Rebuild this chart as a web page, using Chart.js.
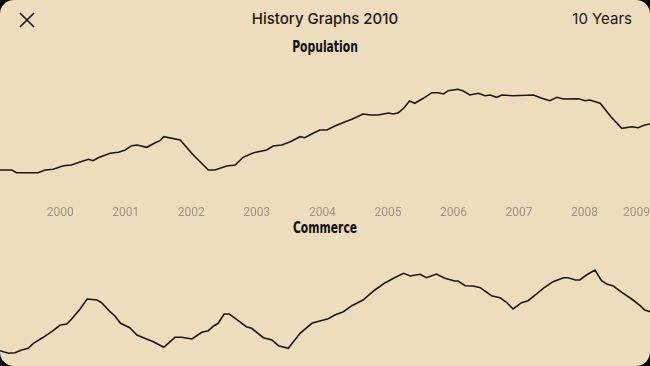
<!DOCTYPE html>
<html>
<head>
<meta charset="utf-8">
<script src="https://cdn.jsdelivr.net/npm/chart.js@4.4.1/dist/chart.umd.min.js"></script>
<style>
  html, body { margin: 0; padding: 0; background: #000; }
  #screen {
    position: relative; width: 650px; height: 366px; overflow: hidden;
    background: #eeddbc; border-radius: 14px;
    font-family: Inter, Roboto, sans-serif; color: #1a1712;
  }
  #closeBtn { position: absolute; left: 19px; top: 12px; width: 16px; height: 16px; }
  #title { position: absolute; left: 0; width: 650px; top: 9px; text-align: center; font-size: 15px; font-weight: 500; }
  #range { position: absolute; right: 18px; top: 9px; font-size: 15px; }
  .section { position: absolute; left: 0; width: 650px; text-align: center;
    font-family: "DejaVu Sans Condensed", "Liberation Sans Narrow", sans-serif;
    font-weight: bold; font-size: 15px; color: #111;
    transform: scaleX(0.8); transform-origin: 325px 0; }
  #popChart { position: absolute; left: 0; top: 60px; }
  #comChart { position: absolute; left: 0; top: 240px; }
</style>
</head>
<body>
<div id="screen">
  <svg id="closeBtn" viewBox="0 0 16 16"><path d="M1 1L15 15M15 1L1 15" stroke="#1a1712" stroke-width="1.6" fill="none"/></svg>
  <div id="title">History Graphs 2010</div>
  <div id="range">10 Years</div>
  <div class="section" style="top:38px">Population</div>
  <div class="section" style="top:219px">Commerce</div>
  <canvas id="popChart" width="650" height="170"></canvas>
  <canvas id="comChart" width="650" height="126"></canvas>
</div>
<script>
const yearTicks = [2000, 2001, 2002, 2003, 2004, 2005, 2006, 2007, 2008, 2009];
const yearLabels = ['2000', '2001', '2002', '2003', '2004', '2005', '2006', '2007', '2008', '2009'];

const populationYears = [1999.08, 1999.26, 1999.33, 1999.66, 1999.77, 1999.89, 2000.05, 2000.17, 2000.30, 2000.43,
  2000.50, 2000.58, 2000.76, 2000.89, 2000.99, 2001.09, 2001.17, 2001.32, 2001.45, 2001.52,
  2001.58, 2001.83, 2002.03, 2002.26, 2002.36, 2002.54, 2002.67, 2002.79, 2002.95, 2003.15,
  2003.25, 2003.38, 2003.51, 2003.66, 2003.73, 2003.86, 2003.96, 2004.07, 2004.19, 2004.35,
  2004.45, 2004.62, 2004.73, 2004.85, 2005.01, 2005.08, 2005.16, 2005.24, 2005.33, 2005.41,
  2005.54, 2005.67, 2005.77, 2005.85, 2005.92, 2006.07, 2006.15, 2006.25, 2006.38, 2006.48,
  2006.56, 2006.66, 2006.74, 2006.91, 2007.22, 2007.35, 2007.47, 2007.58, 2007.68, 2007.91,
  2008.01, 2008.08, 2008.24, 2008.41, 2008.57, 2008.72, 2008.82, 2008.92, 2009.00];
const populationValues = [10, 10, 7.3, 7.3, 10, 10.7, 14.3, 15, 18, 20.7,
  19.3, 22.3, 26.7, 27.7, 30, 34.3, 35, 32.7, 37.3, 39.3,
  43.3, 40, 25, 10, 10, 14, 15, 22.7, 27.3, 30,
  34, 35, 38.3, 43.3, 42.3, 46.7, 50, 50, 54, 58.3,
  60.7, 66, 65, 65, 67, 66, 67.3, 71.7, 79, 76.7,
  81.7, 87.3, 87.3, 86, 89.3, 90.7, 89, 85, 86.7, 84.3,
  85, 82.7, 85, 84.3, 85, 81.7, 79.3, 82.7, 81, 81.3,
  79.3, 80, 76.7, 62.7, 51.7, 53.3, 52.3, 55, 56];

const commerceYears = [1999.08, 1999.21, 1999.31, 1999.41, 1999.51, 1999.59, 1999.74, 1999.89, 2000.00, 2000.10,
  2000.17, 2000.30, 2000.41, 2000.56, 2000.63, 2000.76, 2000.83, 2000.92, 2001.06, 2001.17,
  2001.27, 2001.42, 2001.58, 2001.75, 2001.85, 2002.01, 2002.16, 2002.26, 2002.34, 2002.41,
  2002.50, 2002.58, 2002.69, 2002.84, 2002.92, 2003.10, 2003.23, 2003.33, 2003.48, 2003.66,
  2003.84, 2003.96, 2004.09, 2004.19, 2004.32, 2004.45, 2004.62, 2004.80, 2004.96, 2005.13,
  2005.24, 2005.34, 2005.49, 2005.59, 2005.74, 2005.87, 2006.02, 2006.07, 2006.18, 2006.30,
  2006.41, 2006.58, 2006.71, 2006.81, 2006.91, 2007.04, 2007.14, 2007.25, 2007.37, 2007.52,
  2007.68, 2007.75, 2007.86, 2007.93, 2008.03, 2008.16, 2008.26, 2008.34, 2008.44, 2008.57,
  2008.72, 2008.85, 2008.92, 2009.00];
const commerceValues = [9.3, 6.7, 7.3, 10, 11.7, 16.7, 22.7, 29.3, 35, 36,
  40.7, 50.7, 61, 60, 57.3, 48.3, 44.3, 36.7, 32.3, 25,
  22.3, 18.3, 12.7, 22.7, 22.7, 21, 27.7, 29.3, 34, 36.7,
  46, 46, 40.7, 33.3, 31.7, 22.3, 20, 14.3, 11.7, 26.7,
  36.7, 39, 41.3, 45, 48.3, 54.3, 60, 70, 77.3, 83.3,
  86.7, 84, 85.7, 82.3, 86, 81.7, 79, 79, 74.3, 74,
  72.3, 64.3, 62.3, 57.7, 51, 57.3, 59.3, 65, 71.7, 78.3,
  82.3, 82.3, 80, 80, 85, 90, 79.3, 76, 74, 67.7,
  61, 54.3, 50, 48.3];

const lineColor = '#1c1812';

function points(xs, ys) {
  return xs.map((x, i) => ({ x: x, y: ys[i] }));
}

function makeOptions(pad) {
  return {
    responsive: false,
    animation: false,
    layout: { padding: pad },
    plugins: { legend: { display: false }, tooltip: { enabled: false } },
    scales: {
      x: { type: 'linear', min: 1999.08, max: 2009.0, display: false },
      y: { min: 0, max: 100, display: false }
    }
  };
}

// year labels under the population graph, kept inside the screen
const yearLabelPlugin = {
  id: 'yearLabels',
  afterDraw(chart) {
    const ctx = chart.ctx;
    const xs = chart.scales.x;
    ctx.save();
    ctx.font = '12px Roboto, Inter, sans-serif';
    ctx.fillStyle = '#9b9384';
    ctx.textAlign = 'center';
    ctx.textBaseline = 'middle';
    yearTicks.forEach((yr, i) => {
      const w = ctx.measureText(yearLabels[i]).width;
      let px = xs.getPixelForValue(yr);
      px = Math.min(px, chart.width - w / 2);
      ctx.fillText(yearLabels[i], px, 153);
    });
    ctx.restore();
  }
};

new Chart(document.getElementById('popChart'), {
  type: 'line',
  data: {
    datasets: [{
      data: points(populationYears, populationValues),
      borderColor: lineColor,
      borderWidth: 1.6,
      pointRadius: 0,
      tension: 0
    }]
  },
  options: makeOptions({ top: 20, bottom: 50, left: 0, right: 0 }),
  plugins: [yearLabelPlugin]
});

new Chart(document.getElementById('comChart'), {
  type: 'line',
  data: {
    datasets: [{
      data: points(commerceYears, commerceValues),
      borderColor: lineColor,
      borderWidth: 1.6,
      pointRadius: 0,
      tension: 0
    }]
  },
  options: makeOptions({ top: 20, bottom: 6, left: 0, right: 0 })
});
</script>
</body>
</html>
